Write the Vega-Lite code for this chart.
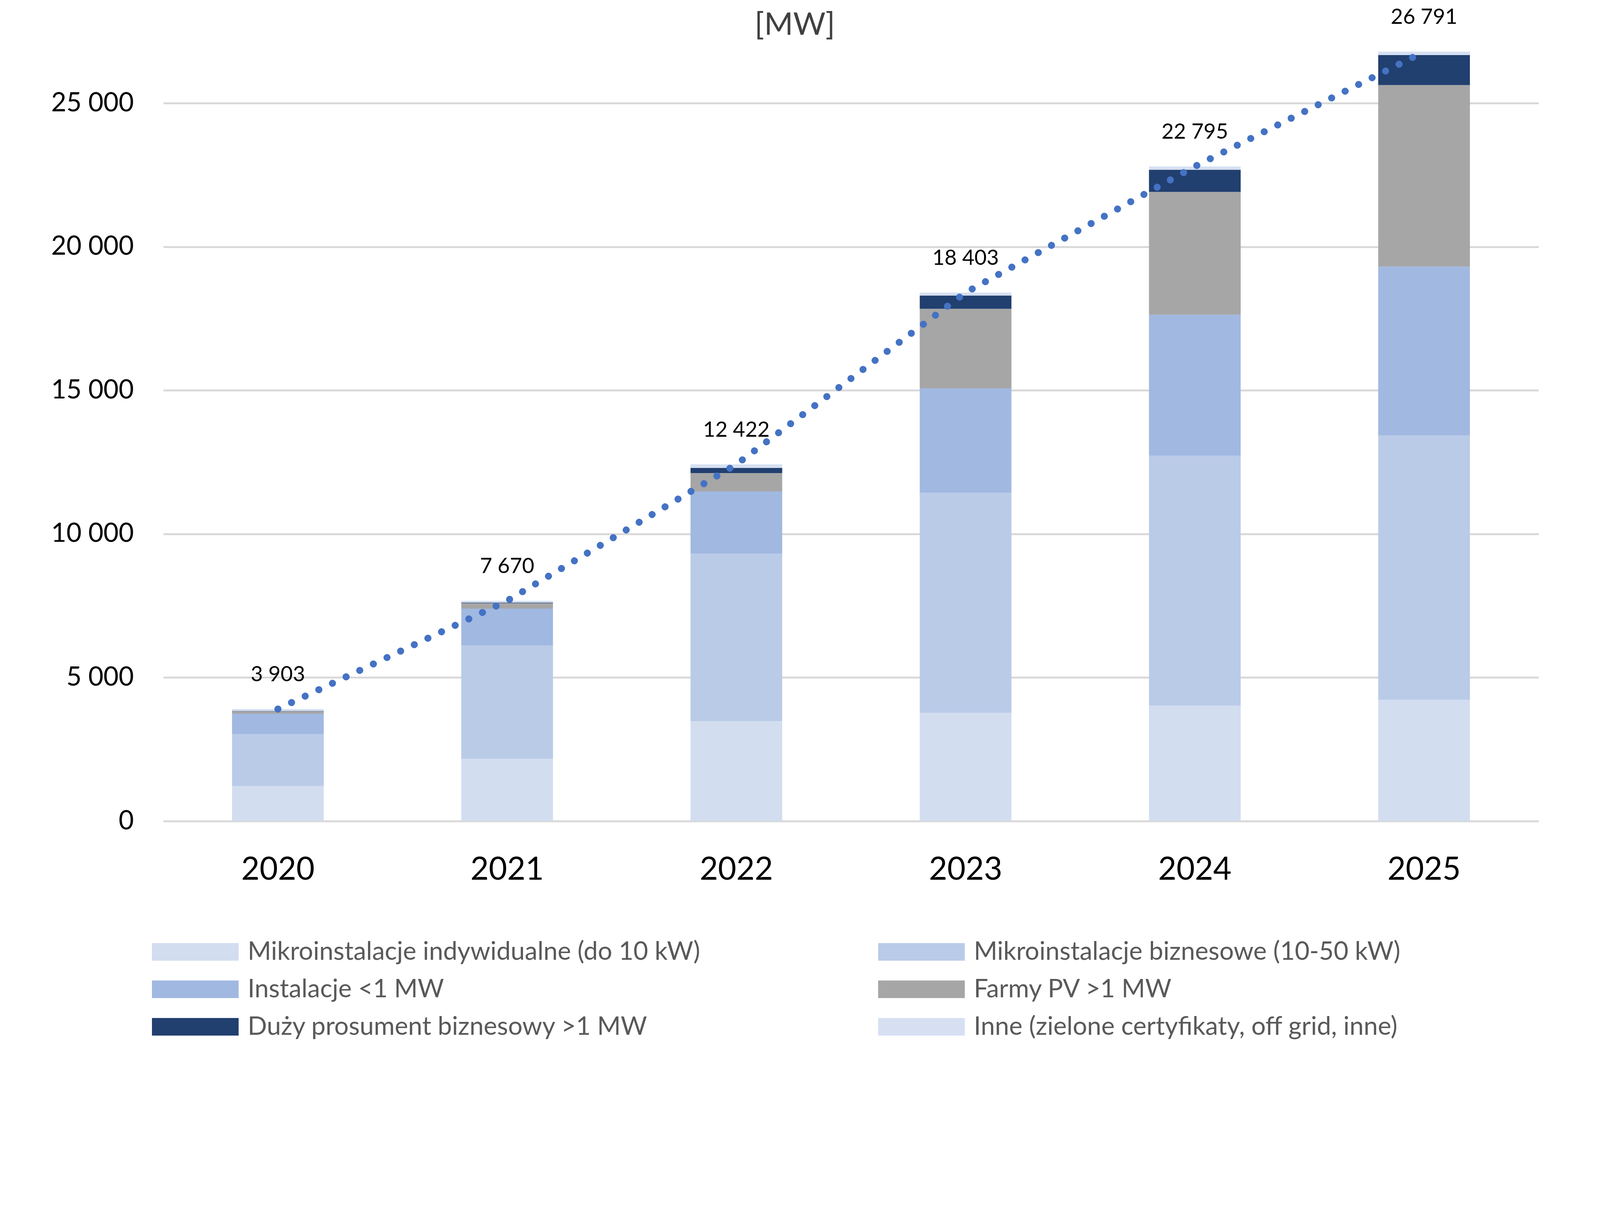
{
  "$schema": "https://vega.github.io/schema/vega-lite/v6.json",
  "autosize": {"type": "none"},
  "padding": {"left": 418, "top": 117, "right": 157, "bottom": 690},
  "width": 3521,
  "height": 1985,
  "background": "white",
  "title": {
    "text": "[MW]",
    "anchor": "middle",
    "frame": "bounds",
    "font": "Lato",
    "fontSize": 80,
    "fontWeight": "normal",
    "color": "#404040",
    "offset": -88
  },
  "datasets": {
    "parts": [
      {"year": "2020", "type": "Mikroinstalacje indywidualne (do 10 kW)", "mw": 1216},
      {"year": "2020", "type": "Mikroinstalacje biznesowe (10-50 kW)", "mw": 1808},
      {"year": "2020", "type": "Instalacje <1 MW", "mw": 716},
      {"year": "2020", "type": "Farmy PV >1 MW", "mw": 90},
      {"year": "2020", "type": "Duży prosument biznesowy >1 MW", "mw": 10},
      {"year": "2020", "type": "Inne (zielone certyfikaty, off grid, inne)", "mw": 63},
      {"year": "2021", "type": "Mikroinstalacje indywidualne (do 10 kW)", "mw": 2170},
      {"year": "2021", "type": "Mikroinstalacje biznesowe (10-50 kW)", "mw": 3940},
      {"year": "2021", "type": "Instalacje <1 MW", "mw": 1290},
      {"year": "2021", "type": "Farmy PV >1 MW", "mw": 190},
      {"year": "2021", "type": "Duży prosument biznesowy >1 MW", "mw": 20},
      {"year": "2021", "type": "Inne (zielone certyfikaty, off grid, inne)", "mw": 60},
      {"year": "2022", "type": "Mikroinstalacje indywidualne (do 10 kW)", "mw": 3480},
      {"year": "2022", "type": "Mikroinstalacje biznesowe (10-50 kW)", "mw": 5830},
      {"year": "2022", "type": "Instalacje <1 MW", "mw": 2170},
      {"year": "2022", "type": "Farmy PV >1 MW", "mw": 640},
      {"year": "2022", "type": "Duży prosument biznesowy >1 MW", "mw": 180},
      {"year": "2022", "type": "Inne (zielone certyfikaty, off grid, inne)", "mw": 122},
      {"year": "2023", "type": "Mikroinstalacje indywidualne (do 10 kW)", "mw": 3770},
      {"year": "2023", "type": "Mikroinstalacje biznesowe (10-50 kW)", "mw": 7670},
      {"year": "2023", "type": "Instalacje <1 MW", "mw": 3630},
      {"year": "2023", "type": "Farmy PV >1 MW", "mw": 2770},
      {"year": "2023", "type": "Duży prosument biznesowy >1 MW", "mw": 460},
      {"year": "2023", "type": "Inne (zielone certyfikaty, off grid, inne)", "mw": 103},
      {"year": "2024", "type": "Mikroinstalacje indywidualne (do 10 kW)", "mw": 4020},
      {"year": "2024", "type": "Mikroinstalacje biznesowe (10-50 kW)", "mw": 8700},
      {"year": "2024", "type": "Instalacje <1 MW", "mw": 4910},
      {"year": "2024", "type": "Farmy PV >1 MW", "mw": 4280},
      {"year": "2024", "type": "Duży prosument biznesowy >1 MW", "mw": 770},
      {"year": "2024", "type": "Inne (zielone certyfikaty, off grid, inne)", "mw": 115},
      {"year": "2025", "type": "Mikroinstalacje indywidualne (do 10 kW)", "mw": 4230},
      {"year": "2025", "type": "Mikroinstalacje biznesowe (10-50 kW)", "mw": 9200},
      {"year": "2025", "type": "Instalacje <1 MW", "mw": 5880},
      {"year": "2025", "type": "Farmy PV >1 MW", "mw": 6320},
      {"year": "2025", "type": "Duży prosument biznesowy >1 MW", "mw": 1045},
      {"year": "2025", "type": "Inne (zielone certyfikaty, off grid, inne)", "mw": 116}
    ],
    "totals": [
      {"year": "2020", "total": 3903},
      {"year": "2021", "total": 7670},
      {"year": "2022", "total": 12422},
      {"year": "2023", "total": 18403},
      {"year": "2024", "total": 22795},
      {"year": "2025", "total": 26791}
    ]
  },
  "encoding": {
    "x": {
      "field": "year",
      "type": "ordinal",
      "title": null,
      "scale": {"paddingInner": 0.6, "paddingOuter": 0.3},
      "axis": {
        "labelAngle": 0,
        "labelFont": "Lato",
        "labelFontSize": 81,
        "labelColor": "#000000",
        "labelPadding": 85,
        "labelLimit": 1000,
        "domain": false,
        "ticks": false,
        "grid": false
      }
    }
  },
  "layer": [
    {
      "data": {"name": "parts"},
      "transform": [
        {
          "calculate": "indexof(['Mikroinstalacje indywidualne (do 10 kW)', 'Mikroinstalacje biznesowe (10-50 kW)', 'Instalacje <1 MW', 'Farmy PV >1 MW', 'Duży prosument biznesowy >1 MW', 'Inne (zielone certyfikaty, off grid, inne)'], datum.type)",
          "as": "k"
        }
      ],
      "mark": {"type": "bar"},
      "encoding": {
        "y": {
          "field": "mw",
          "type": "quantitative",
          "stack": "zero",
          "title": null,
          "scale": {"domain": [0, 27000], "nice": false},
          "axis": {
            "values": [0, 5000, 10000, 15000, 20000, 25000],
            "format": ",d",
            "labelFont": "Lato",
            "labelFontSize": 67,
            "labelColor": "#000000",
            "labelPadding": 76,
            "labelLimit": 1000,
            "domain": false,
            "ticks": false,
            "grid": true,
            "gridColor": "#D9D9D9",
            "gridWidth": 5
          }
        },
        "order": {"field": "k", "type": "quantitative", "sort": "ascending"},
        "color": {
          "field": "type",
          "type": "nominal",
          "title": null,
          "scale": {
            "domain": [
              "Mikroinstalacje indywidualne (do 10 kW)",
              "Mikroinstalacje biznesowe (10-50 kW)",
              "Instalacje <1 MW",
              "Farmy PV >1 MW",
              "Duży prosument biznesowy >1 MW",
              "Inne (zielone certyfikaty, off grid, inne)"
            ],
            "range": ["#D2DDEF", "#BACBE8", "#A1B8E1", "#A6A6A6", "#213F6F", "#D6E0F2"]
          },
          "legend": {
            "orient": "none",
            "direction": "horizontal",
            "legendX": -29,
            "legendY": 2257,
            "columns": 2,
            "columnPadding": 455,
            "rowPadding": 0,
            "symbolType": "M-1,-0.36H2.55V0.36H-1Z",
            "symbolSize": 15625,
            "symbolStrokeWidth": 0,
            "symbolOpacity": 1,
            "labelFont": "Lato",
            "labelFontSize": 65,
            "labelColor": "#595959",
            "labelOffset": 120,
            "labelLimit": 3000
          }
        }
      }
    },
    {
      "data": {"name": "totals"},
      "mark": {
        "type": "line",
        "color": "#4472C4",
        "strokeWidth": 18,
        "strokeDash": [0.1, 38.5],
        "strokeCap": "round"
      },
      "encoding": {
        "y": {"field": "total", "type": "quantitative"}
      }
    },
    {
      "data": {"name": "totals"},
      "mark": {
        "type": "text",
        "font": "Lato",
        "fontSize": 54,
        "color": "#000000",
        "baseline": "middle",
        "dy": -87
      },
      "encoding": {
        "y": {"field": "total", "type": "quantitative"},
        "text": {"field": "total", "type": "quantitative", "format": ",d"}
      }
    }
  ],
  "config": {
    "view": {"stroke": null},
    "locale": {
      "number": {
        "decimal": ",",
        "thousands": " ",
        "grouping": [3],
        "currency": ["", " zł"]
      }
    }
  }
}
